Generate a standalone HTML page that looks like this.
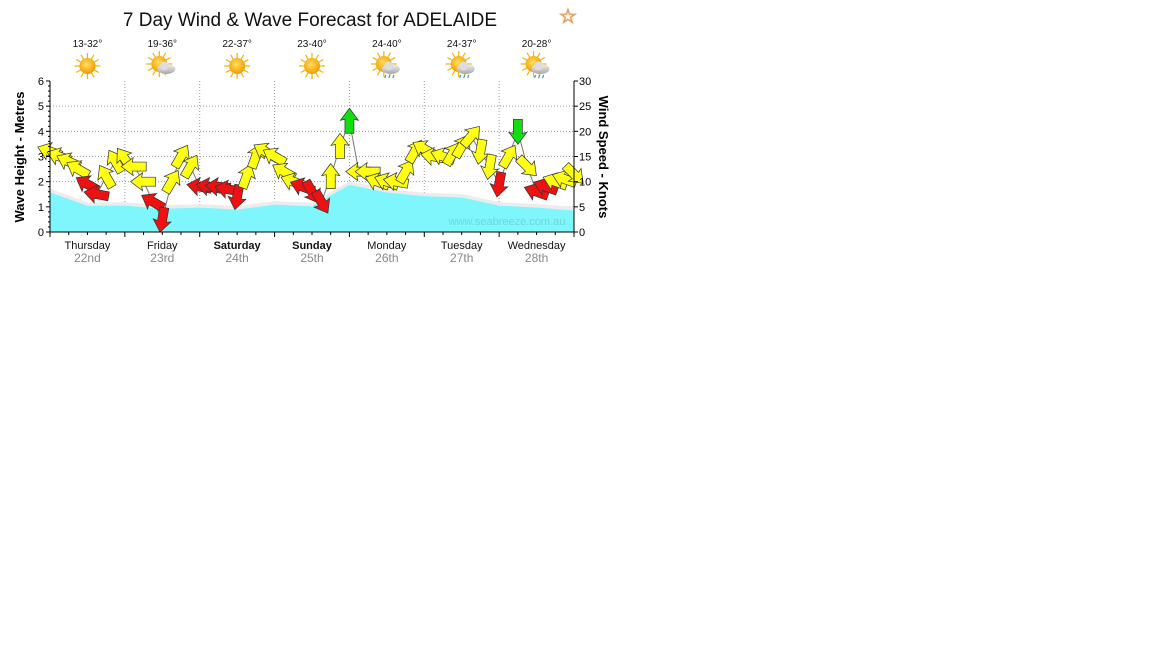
<!DOCTYPE html>
<html><head><meta charset="utf-8"><style>
html,body{margin:0;padding:0;background:#fff;width:1152px;height:648px;overflow:hidden}
svg{position:absolute;left:0;top:0}
text{font-family:"Liberation Sans",sans-serif}
</style></head><body>
<svg id="chart" width="1152" height="648">
<defs>
<radialGradient id="sun" cx="45%" cy="40%" r="60%"><stop offset="0" stop-color="#ffe060"/><stop offset="1" stop-color="#f39a00"/></radialGradient>
<linearGradient id="cloud" x1="0" y1="0" x2="0" y2="1"><stop offset="0" stop-color="#f2f2f2"/><stop offset="1" stop-color="#a8a8a8"/></linearGradient>
</defs>
<text x="310" y="26" font-size="19" text-anchor="middle" fill="#111">7 Day Wind &amp; Wave Forecast for ADELAIDE</text>
<text x="568" y="23" font-size="20" text-anchor="middle" fill="none" stroke="#e8a060" stroke-width="1">☆</text>
<g id="icons"></g>
<g id="grid"></g>
<g id="wave"></g>
<g id="wind"></g>
<g id="axes"></g>
<text x="507" y="225" font-size="11" fill="#6fd6dc" text-anchor="middle">www.seabreeze.com.au</text>
<text transform="translate(24,157) rotate(-90)" font-size="13" font-weight="bold" text-anchor="middle" fill="#000">Wave Height - Metres</text>
<text transform="translate(599,157) rotate(90)" font-size="13" font-weight="bold" text-anchor="middle" fill="#000">Wind Speed - Knots</text>
</svg>
<script>
const days=["Thursday","Friday","Saturday","Sunday","Monday","Tuesday","Wednesday"];
const dates=["22nd","23rd","24th","25th","26th","27th","28th"];
const boldDays=[false,false,true,true,false,false,false];
const temps=["13-32°","19-36°","22-37°","23-40°","24-40°","24-37°","20-28°"];
const weather=["sun","cloud","sun","sun","rain","rain","rain"];
const waveHours=[0,12,24,36,48,60,72,84,96,108,120,132,144,156,168];
const waveM=[1.55,1.02,1.03,0.9,0.95,0.87,1.07,1.0,1.85,1.55,1.4,1.35,1.03,0.95,0.83];
const windKn=[16,15,14,12.5,9.5,7.5,11,14,14.5,13,10,6,2.5,10,15,13,9,9,9,8.5,7,11,15,16,15,12,10,9,8,6,11,17,22,12,12,10,10,10,12,16,16.5,15,15,15.5,17,19,16,13,9.5,15,20,13,8,9,10,10.5,11.5];
const windDir=[200,200,205,210,210,190,240,240,235,180,180,210,100,300,300,300,190,190,185,190,100,290,290,210,210,210,200,200,60,60,270,270,270,180,180,200,200,190,300,300,210,190,200,300,300,310,100,100,100,300,90,45,200,200,200,200,45];
const NS="http://www.w3.org/2000/svg";
const X0=50,X1=574,Y0=232,Y1=81;
const xh=h=>X0+(X1-X0)*h/168;
const ym=m=>Y0-(Y0-Y1)*m/6;
const yk=k=>Y0-(Y0-Y1)*k/30;
function mk(tag,attrs,parent){const e=document.createElementNS(NS,tag);for(const k in attrs)e.setAttribute(k,attrs[k]);parent.appendChild(e);return e;}
const grid=document.getElementById('grid'),axes=document.getElementById('axes'),icons=document.getElementById('icons');
for(let m=1;m<=5;m++){const l=mk('line',{x1:X0,x2:X1,y1:ym(m),y2:ym(m),stroke:'#999','stroke-dasharray':'1,2'},grid);

}
for(let d=1;d<7;d++){const l=mk('line',{x1:xh(d*24),x2:xh(d*24),y1:Y1,y2:Y0,stroke:'#999','stroke-dasharray':'1,2'},grid);

}
let d=`M${xh(0)},${Y0}`;waveHours.forEach((h,i)=>d+=` L${xh(h)},${ym(waveM[i])}`);d+=` L${xh(168)},${Y0} Z`;
let sd=`M${xh(0)},${ym(waveM[0])-1}`;waveHours.forEach((h,i)=>sd+=` L${xh(h)},${ym(waveM[i])-2}`);
const sh=mk('path',{d:sd,fill:'none',stroke:'#ececec','stroke-width':4},document.getElementById('wave'));


const wa=mk('path',{d:d,fill:'#7ff6fb',stroke:'#7ff6fb'},document.getElementById('wave'));


const wind=document.getElementById('wind');
let ld='';windKn.forEach((k,i)=>ld+=(i?' L':'M')+xh(i*3)+','+yk(k));
const wl=mk('path',{d:ld,fill:'none',stroke:'#777','stroke-width':1},wind);


windKn.forEach((k,i)=>{
 const col=k<10?'#ee1111':(k<20?'#ffff11':'#11dd11');
 const g=mk('g',{transform:`translate(${xh(i*3)},${yk(k)}) rotate(${windDir[i]})`},wind);
 
 
 mk('polygon',{points:'-12,-4.5 2,-4.5 1,-9 13,0 1,9 2,4.5 -12,4.5',fill:col,stroke:'#333','stroke-width':0.7},g);
});
mk('line',{x1:X0,x2:X0,y1:Y1,y2:Y0,stroke:'#000'},axes);
mk('line',{x1:X1,x2:X1,y1:Y1,y2:Y0,stroke:'#000'},axes);
mk('line',{x1:X0,x2:X1,y1:Y0,y2:Y0,stroke:'#000'},axes);
for(let m=0;m<=6;m++){mk('line',{x1:X0-4,x2:X0,y1:ym(m),y2:ym(m),stroke:'#000'},axes);
 const t=mk('text',{x:X0-6,y:ym(m)+4,'font-size':11,'text-anchor':'end'},axes);t.textContent=m;
 
 
 if(m<6)for(let s=1;s<5;s++)mk('line',{x1:X0-2,x2:X0,y1:ym(m+s/5),y2:ym(m+s/5),stroke:'#000'},axes);}
for(let k=0;k<=30;k+=5){mk('line',{x1:X1,x2:X1+4,y1:yk(k),y2:yk(k),stroke:'#000'},axes);
 const t=mk('text',{x:X1+5,y:yk(k)+4,'font-size':11},axes);t.textContent=k;
 
 }
for(let h=0;h<=168;h+=6){mk('line',{x1:xh(h),x2:xh(h),y1:Y0,y2:Y0+(h%24?3:5),stroke:'#000'},axes);}
days.forEach((n,i)=>{const cx=xh(i*24+12);
 const t=mk('text',{x:cx,y:249,'font-size':11,'text-anchor':'middle','font-weight':boldDays[i]?'bold':'normal',fill:'#111'},axes);t.textContent=n;
 
 
 const t2=mk('text',{x:cx,y:262,'font-size':12,'text-anchor':'middle',fill:'#888'},axes);t2.textContent=dates[i];
 
 
 const tt=mk('text',{x:cx,y:47,'font-size':10,'text-anchor':'middle',fill:'#111'},icons);tt.textContent=temps[i];
 
 
 const g=mk('g',{transform:`translate(${cx},66)`},icons);
 
 
 const ox=weather[i]=='sun'?0:-3,oy=weather[i]=='sun'?0:-2;
 for(let a=0;a<360;a+=30)mk('line',{x1:ox,y1:oy,x2:ox+13*Math.cos(a*Math.PI/180),y2:oy+13*Math.sin(a*Math.PI/180),stroke:'#f5b000','stroke-width':1.2},g);
 mk('circle',{cx:ox,cy:oy,r:8,fill:'url(#sun)'},g);
 if(weather[i]!='sun'){mk('ellipse',{cx:4,cy:3,rx:9,ry:5,fill:'url(#cloud)'},g);mk('circle',{cx:2,cy:0,r:4.5,fill:'#ddd'},g);
  if(weather[i]=='rain'){[-1,3,7].forEach(x=>mk('line',{x1:x,y1:9,x2:x-1,y2:12,stroke:'#3aa0e0','stroke-width':1.3},g));}}
});
</script>
</body></html>
